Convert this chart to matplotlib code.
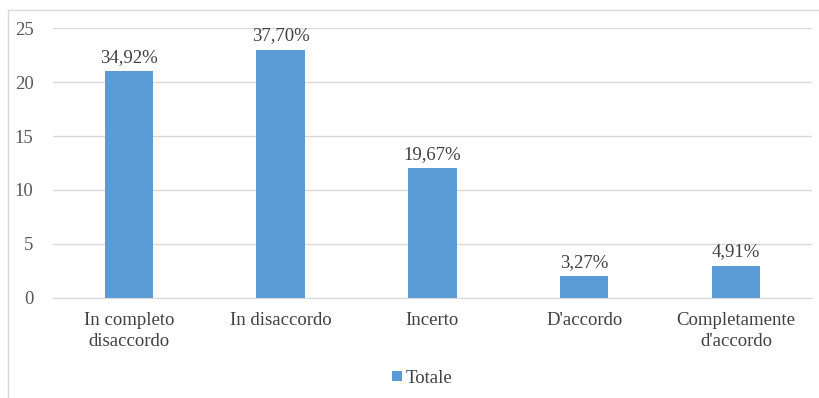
import matplotlib
matplotlib.use('Agg')
import matplotlib.pyplot as plt
from matplotlib.patches import Patch
from matplotlib.lines import Line2D

# Risposte al questionario
categorie = ["In completo\ndisaccordo", "In disaccordo", "Incerto", "D'accordo", "Completamente\nd'accordo"]
totale = [21, 23, 12, 2, 3]
percentuali = ["34,92%", "37,70%", "19,67%", "3,27%", "4,91%"]

plt.rcParams['font.family'] = ['Liberation Serif', 'DejaVu Serif']
FS = 13.5

fig = plt.figure(figsize=(8.2, 3.98), dpi=100)
ax = fig.add_axes([0.0646, 0.2513, 0.9254, 0.6783])

x = range(len(categorie))
bars = ax.bar(x, totale, width=0.32, color='#5b9bd5', zorder=3)

for b, lab in zip(bars, percentuali):
    ax.annotate(lab, (b.get_x() + b.get_width() / 2, b.get_height()),
                xytext=(0, 4), textcoords='offset points',
                ha='center', va='bottom', fontsize=FS, color='#404040')

ax.set_xlim(-0.5, len(categorie) - 0.5)
ax.set_ylim(0, 25)
ax.set_yticks([0, 5, 10, 15, 20, 25])
ax.set_xticks(list(x))
ax.set_xticklabels(categorie, fontsize=FS, color='#404040', linespacing=1.35)
ax.tick_params(axis='y', labelsize=FS, labelcolor='#595959', length=0, pad=14)
ax.tick_params(axis='x', length=0, pad=10)

ax.grid(axis='y', color='#d9d9d9', linewidth=1, zorder=0)
for s in ['top', 'right', 'left']:
    ax.spines[s].set_visible(False)
ax.spines['bottom'].set_color('#d9d9d9')
ax.spines['bottom'].set_zorder(4)

# cornice del grafico
fig.add_artist(Line2D([8 / 820, 1], [388 / 398, 388 / 398], transform=fig.transFigure,
                      color='#d9d9d9', linewidth=1))
fig.add_artist(Line2D([8 / 820, 8 / 820], [0, 388 / 398], transform=fig.transFigure,
                      color='#d9d9d9', linewidth=1))

handle = Patch(facecolor='#5b9bd5', edgecolor='none')
fig.legend([handle], ['Totale'], loc='center', bbox_to_anchor=(0.515, 0.05),
           frameon=False, fontsize=FS, handlelength=0.5, handleheight=0.5,
           handletextpad=0.2, labelcolor='#404040')

fig.savefig('out.png', dpi=100)
